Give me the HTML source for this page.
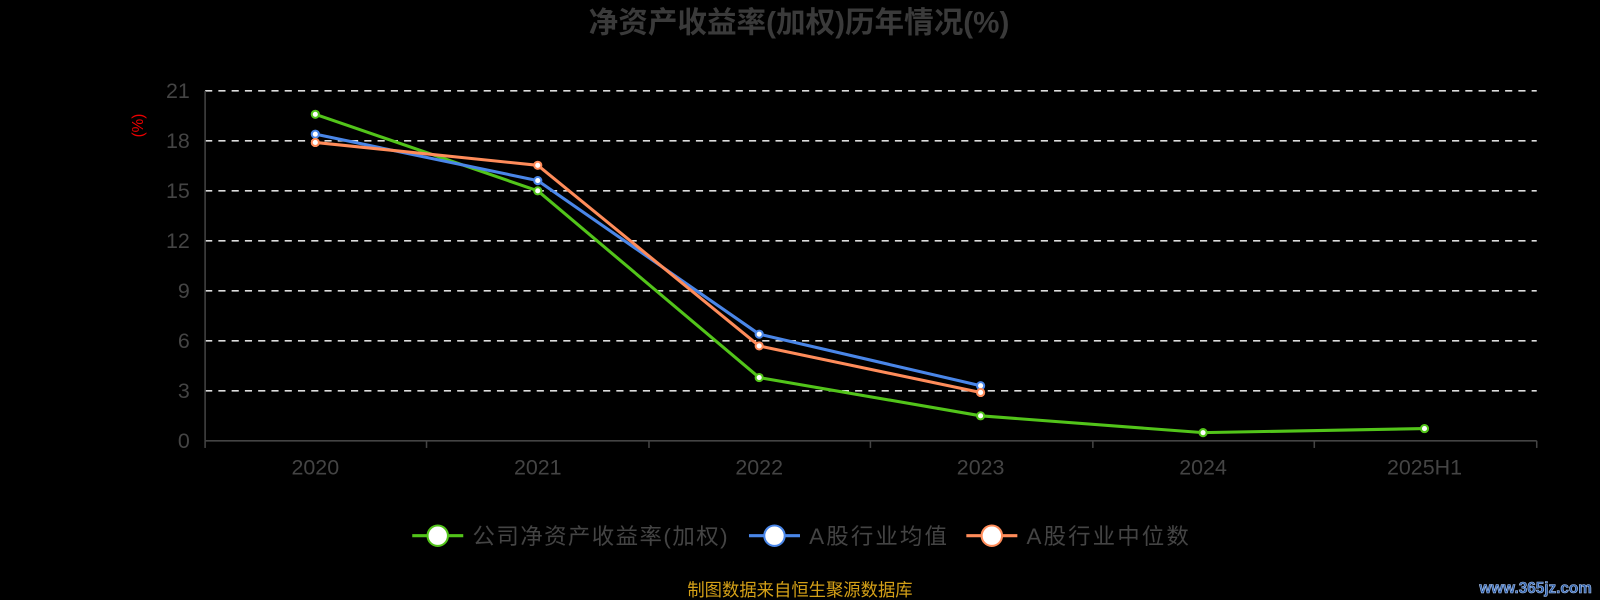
<!DOCTYPE html>
<html><head><meta charset="utf-8"><style>html,body{margin:0;padding:0;background:#000;}svg{display:block}</style></head>
<body>
<svg width="1600" height="600" viewBox="0 0 1568 588" preserveAspectRatio="none" xmlns="http://www.w3.org/2000/svg" font-family="Liberation Sans, Noto Sans CJK SC, sans-serif">
<rect width="1568" height="588" fill="#000"/>
<text x="783" y="32" text-anchor="middle" font-size="29" font-weight="bold" fill="#3a3a3a">净资产收益率(加权)历年情况(%)</text>
<g stroke="#ddd" stroke-width="1.5" stroke-dasharray="7,6">
<line x1="201" y1="89" x2="1506" y2="89"/><line x1="201" y1="138" x2="1506" y2="138"/><line x1="201" y1="187" x2="1506" y2="187"/><line x1="201" y1="236" x2="1506" y2="236"/><line x1="201" y1="285" x2="1506" y2="285"/><line x1="201" y1="334" x2="1506" y2="334"/><line x1="201" y1="383" x2="1506" y2="383"/>
</g>
<g stroke="#444" stroke-width="1.5"><line x1="201" y1="89" x2="201" y2="432"/><line x1="201" y1="432" x2="1506" y2="432"/>
<line x1="201" y1="432" x2="201" y2="439"/><line x1="418" y1="432" x2="418" y2="439"/><line x1="636" y1="432" x2="636" y2="439"/><line x1="853" y1="432" x2="853" y2="439"/><line x1="1071" y1="432" x2="1071" y2="439"/><line x1="1288" y1="432" x2="1288" y2="439"/><line x1="1506" y1="432" x2="1506" y2="439"/></g>
<g fill="#444" font-size="21" text-anchor="end">
<text x="186" y="96">21</text><text x="186" y="145">18</text><text x="186" y="194">15</text><text x="186" y="243">12</text><text x="186" y="292">9</text><text x="186" y="341">6</text><text x="186" y="390">3</text><text x="186" y="439">0</text></g>
<text x="140" y="123" fill="#e00" font-size="15" text-anchor="middle" transform="rotate(-90 140 123)">(%)</text>
<g fill="#444" font-size="21" text-anchor="middle">
<text x="309" y="465">2020</text><text x="527" y="465">2021</text><text x="744" y="465">2022</text><text x="961" y="465">2023</text><text x="1179" y="465">2024</text><text x="1396" y="465">2025H1</text></g>
<g fill="none" stroke-width="3" stroke-linejoin="round">
<polyline stroke="#52c41a" points="309,112 527,187 744,370 961,407.5 1179,424 1396,420"/>
<polyline stroke="#4a86e8" points="309,131.5 527,177 744,327.5 961,378"/>
<polyline stroke="#ff8c5a" points="309,139.6 527,162 744,339 961,384.6"/>
</g>
<g fill="#fff" stroke-width="2">
<g stroke="#52c41a"><circle cx="309" cy="112" r="3.5"/><circle cx="527" cy="187" r="3.5"/><circle cx="744" cy="370" r="3.5"/><circle cx="961" cy="407.5" r="3.5"/><circle cx="1179" cy="424" r="3.5"/><circle cx="1396" cy="420" r="3.5"/></g>
<g stroke="#4a86e8"><circle cx="309" cy="131.5" r="3.5"/><circle cx="527" cy="177" r="3.5"/><circle cx="744" cy="327.5" r="3.5"/><circle cx="961" cy="378" r="3.5"/></g>
<g stroke="#ff8c5a"><circle cx="309" cy="139.6" r="3.5"/><circle cx="527" cy="162" r="3.5"/><circle cx="744" cy="339" r="3.5"/><circle cx="961" cy="384.6" r="3.5"/></g>
</g>
<g font-size="22" fill="#444">
<line x1="404" y1="525" x2="454" y2="525" stroke="#52c41a" stroke-width="3"/><circle cx="429" cy="525" r="10" fill="#fff" stroke="#52c41a" stroke-width="2"/><text x="463" y="533" textLength="250">公司净资产收益率(加权)</text>
<line x1="734" y1="525" x2="784" y2="525" stroke="#4a86e8" stroke-width="3"/><circle cx="759" cy="525" r="10" fill="#fff" stroke="#4a86e8" stroke-width="2"/><text x="793" y="533" textLength="135">A股行业均值</text>
<line x1="947" y1="525" x2="997" y2="525" stroke="#ff8c5a" stroke-width="3"/><circle cx="972" cy="525" r="10" fill="#fff" stroke="#ff8c5a" stroke-width="2"/><text x="1006" y="533" textLength="159">A股行业中位数</text>
</g>
<text x="784" y="584" text-anchor="middle" font-size="17" fill="#d4a017">制图数据来自恒生聚源数据库</text>
<text x="1560" y="581" text-anchor="end" font-size="15" font-weight="bold" fill="#2f5fa8" stroke="#a8c4f0" stroke-width="0.6">www.365jz.com</text>
</svg>
</body></html>
